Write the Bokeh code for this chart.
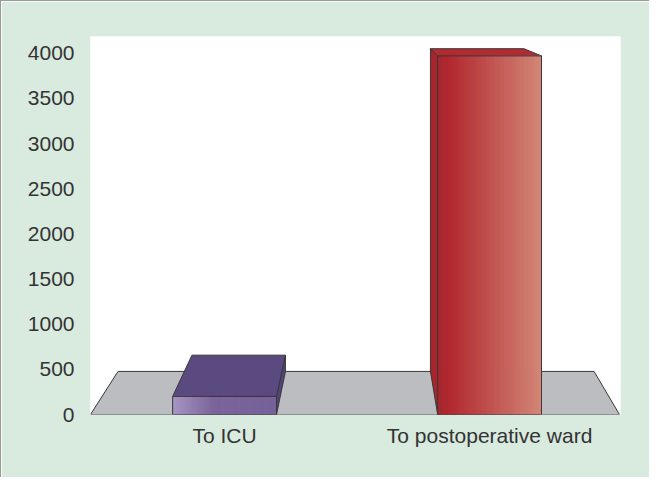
import numpy as np
from bokeh.plotting import figure
from bokeh.models import Range1d, FixedTicker
from bokeh.embed import file_html
from bokeh.resources import INLINE

# ---- data ----
categories = ["To ICU", "To postoperative ward"]
values = [200, 3970]
y_ticks = [0, 500, 1000, 1500, 2000, 2500, 3000, 3500, 4000]

# ---- style ----
face_left = ["#a896c4", "#a3262d"]
face_mid = ["#7a649b", "#b2292f"]
face_right = ["#76629a", "#d28676"]
top_colors = ["#5b4a80", "#b32a31"]
side_colors = ["#54447a", "#a9252c"]
floor_color = "#bcbdc1"
edge = "#383838"
panel = "#d9eadf"
text_col = "#333333"
FONT = "Liberation Sans"

X0, X1 = -0.506, 1.494
Y0, Y1 = 0, 4185
VPX, VPY = 0.532, 4770      # vanishing point (perspective)
DEPTH = 0.1
HALF = 0.196


def back(x, y, d=DEPTH):
    return x + d * (VPX - x), y + d * (VPY - y)


p = figure(width=649, height=477, output_backend="svg", toolbar_location=None,
           x_range=Range1d(X0, X1), y_range=Range1d(Y0, Y1),
           min_border_left=89, min_border_right=30, min_border_top=35, min_border_bottom=64,
           background_fill_color="white", border_fill_color=panel)
p.outline_line_color = None
p.grid.visible = False
p.styles = {"border-top": "1px solid #9a9a9a", "border-left": "1px solid #9a9a9a"}

# floor
fl = [(X0, Y0), (X1 - 0.004, Y0)]
fb = [back(*pt) for pt in fl]
p.patch([fl[0][0], fl[1][0], fb[1][0], fb[0][0]],
        [fl[0][1], fl[1][1], fb[1][1], fb[0][1]],
        fill_color=floor_color, line_color=edge, line_width=1)


def lerp(c1, c2, t):
    a = np.array([int(c1[i:i + 2], 16) for i in (1, 3, 5)])
    b = np.array([int(c2[i:i + 2], 16) for i in (1, 3, 5)])
    c = (a + (b - a) * t).round().astype(int)
    return "#%02x%02x%02x" % tuple(c)


for i, (cat, v) in enumerate(zip(categories, values)):
    xl, xr = i - HALF, i + HALF
    sx = xr if xr < VPX else xl
    bt = back(sx, v)
    bb = back(sx, Y0)
    p.patch([sx, sx, bt[0], bb[0]], [Y0, v, bt[1], bb[1]],
            fill_color=side_colors[i], line_color=edge, line_width=1)
    bl = back(xl, v)
    br = back(xr, v)
    p.patch([xl, xr, br[0], bl[0]], [v, v, br[1], bl[1]],
            fill_color=top_colors[i], line_color=edge, line_width=1)
    n = 50
    edges_x = np.linspace(xl, xr, n + 1)
    split = 0.4 if i == 0 else 0.12
    cols = []
    for k in range(n):
        t = (k + 0.5) / n
        if t < split:
            cols.append(lerp(face_left[i], face_mid[i], t / split))
        else:
            cols.append(lerp(face_mid[i], face_right[i], (t - split) / (1 - split)))
    p.quad(left=edges_x[:-1], right=edges_x[1:], bottom=Y0, top=v,
           fill_color=cols, line_color=cols, line_width=1)
    p.quad(left=[xl], right=[xr], bottom=[Y0], top=[v],
           fill_color=None, line_color=edge, line_width=1)

# axes
p.xaxis.ticker = FixedTicker(ticks=list(range(len(categories))))
p.xaxis.major_label_overrides = {i: c for i, c in enumerate(categories)}
p.yaxis.ticker = FixedTicker(ticks=y_ticks)
for ax in (p.xaxis[0], p.yaxis[0]):
    ax.axis_line_color = None
    ax.major_tick_line_color = None
    ax.minor_tick_line_color = None
    ax.major_tick_out = 0
    ax.major_tick_in = 0
    ax.major_label_text_font = FONT
    ax.major_label_text_font_size = "21px"
    ax.major_label_text_color = text_col
p.xaxis.major_label_standoff = 9
p.yaxis.major_label_standoff = 16

open("out.html", "w").write(file_html(p, INLINE))
